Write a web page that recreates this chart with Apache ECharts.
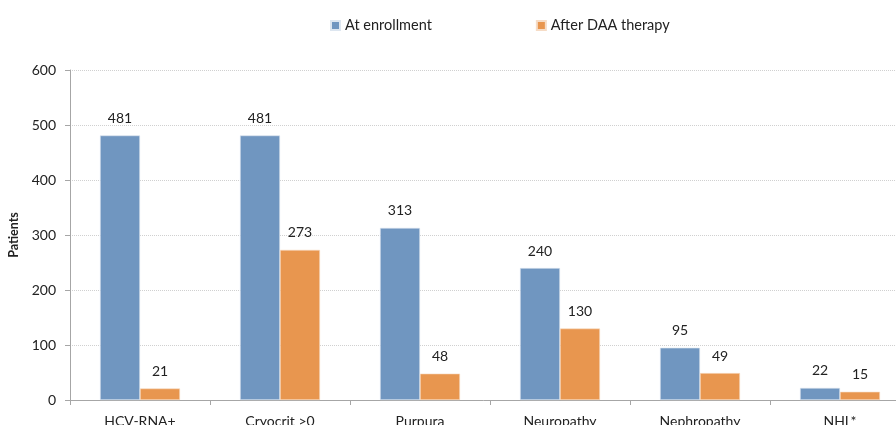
<!DOCTYPE html>
<html>
<head>
<meta charset="utf-8">
<script src="https://cdn.jsdelivr.net/npm/echarts@6/dist/echarts.min.js"></script>
<style>
html, body { margin: 0; padding: 0; background: #fff; }
#chart { width: 896px; height: 425px; }
</style>
</head>
<body>
<div id="chart"></div>
<script>
// categories and values
var categories = ['HCV-RNA+', 'Cryocrit >0', 'Purpura', 'Neuropathy', 'Nephropathy', 'NHL*']
var enrollment = [481, 481, 313, 240, 95, 22]
var afterDaa = [21, 273, 48, 130, 49, 15]
var seriesNames = ['At enrollment', 'After DAA therapy']

var font = 'Lato, "Open Sans", sans-serif'
var chart = echarts.init(document.getElementById('chart'))

chart.setOption({
    animation: false,
    textStyle: { fontFamily: font },
    legend: {
        data: seriesNames,
        top: 13,
        left: 325,
        itemWidth: 9,
        itemHeight: 9,
        itemGap: 104,
        icon: 'rect',
        textStyle: { fontSize: 14.5, color: '#222', fontFamily: font }
    },
    grid: {
        left: 70,
        top: 70,
        width: 840,
        height: 330,
        outerBoundsMode: 'none',
        containLabel: false
    },
    xAxis: {
        type: 'category',
        data: categories,
        axisLine: { lineStyle: { color: '#a6a6a6' } },
        axisTick: { show: true, length: 5, lineStyle: { color: '#a6a6a6' } },
        axisLabel: { fontSize: 14, color: '#222', margin: 14, fontFamily: font }
    },
    yAxis: {
        type: 'value',
        min: 0,
        max: 600,
        interval: 100,
        name: 'Patients',
        nameLocation: 'middle',
        nameRotate: 90,
        nameGap: 43,
        nameTextStyle: { fontSize: 12.5, fontWeight: 'bold', color: '#222', fontFamily: font },
        axisLine: { show: true, lineStyle: { color: '#a6a6a6' } },
        axisTick: { show: true, length: 5, lineStyle: { color: '#a6a6a6' } },
        axisLabel: { fontSize: 14, color: '#222', margin: 14, fontFamily: font },
        splitLine: { lineStyle: { color: '#d0d0d0', type: 'dotted' } }
    },
    series: [
        {
            name: seriesNames[0],
            type: 'bar',
            data: enrollment,
            barGap: '0%',
            barCategoryGap: '42.86%',
            itemStyle: { color: '#7096c0', borderColor: '#dde6f0', borderWidth: 0.6 },
            label: { show: true, position: 'top', distance: 10, fontSize: 14, color: '#222', fontFamily: font }
        },
        {
            name: seriesNames[1],
            type: 'bar',
            data: afterDaa,
            barGap: '0%',
            barCategoryGap: '42.86%',
            itemStyle: { color: '#e8964f', borderColor: '#f6dcc6', borderWidth: 0.6 },
            label: { show: true, position: 'top', distance: 10, fontSize: 14, color: '#222', fontFamily: font }
        }
    ]
})
</script>
</body>
</html>
